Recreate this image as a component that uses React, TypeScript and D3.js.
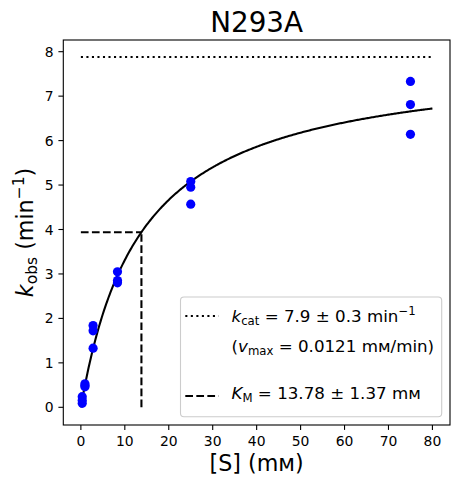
import React from "react";
import * as d3 from "d3";

const title = "N293A";
const substrate = [0.309, 0.309, 0.309, 0.926, 0.926, 0.926, 2.78, 2.78, 2.78, 8.33, 8.33, 8.33, 25, 25, 25, 75, 75, 75];
const kobs = [0.24, 0.16, 0.09, 0.53, 0.49, 0.46, 1.84, 1.72, 1.33, 3.05, 2.85, 2.8, 5.08, 4.95, 4.57, 7.33, 6.81, 6.14];
const kcat = 7.88;
const km = 13.78;
const xTicks = [0, 10, 20, 30, 40, 50, 60, 70, 80];
const yTicks = [0, 1, 2, 3, 4, 5, 6, 7, 8];
const curveMax = 80;

const W = 460;
const H = 484;
const L = 63.3, R = 450, T = 40, B = 425;
const FONT = "'DejaVu Sans', sans-serif";

export default function App() {
  const x = d3.scaleLinear().domain([-4, 84]).range([L, R]);
  const y = d3.scaleLinear().domain([-0.398, 8.263]).range([B, T]);
  const curvePts = d3.range(0, curveMax + 0.001, 0.25).map((s) => [s, (kcat * s) / (km + s)] as [number, number]);
  const line = d3.line<[number, number]>().x((d) => x(d[0])).y((d) => y(d[1]));
  const half = kcat / 2;
  const lw = 2.08;
  const dotted = "2.08 3.44";
  const dashed = "7.7 3.33";
  const lf = 16.7;
  const sf = lf * 0.7;
  const hx1 = 185.3, hx2 = 218.6, tx = 231.5;
  return (
    <svg width={W} height={H} style={{ position: "absolute", left: 0, top: 0, background: "#fff" }} fontFamily={FONT}>
      <rect x={0} y={0} width={W} height={H} fill="#fff" />
      {/* kcat dotted */}
      <line x1={x(0)} x2={x(curveMax)} y1={y(kcat)} y2={y(kcat)} stroke="#000" strokeWidth={lw} strokeDasharray={dotted} />
      {/* Km dashed */}
      <line x1={x(0)} x2={x(km)} y1={y(half)} y2={y(half)} stroke="#000" strokeWidth={lw} strokeDasharray={dashed} />
      <line x1={x(km)} x2={x(km)} y1={y(0)} y2={y(half)} stroke="#000" strokeWidth={lw} strokeDasharray={dashed} />
      {/* curve */}
      <path d={line(curvePts) || ""} fill="none" stroke="#000" strokeWidth={lw} />
      {/* points */}
      {substrate.map((s, i) => (
        <circle key={i} cx={x(s)} cy={y(kobs[i])} r={4.6} fill="#0000ff" />
      ))}
      {/* spines */}
      <rect x={L} y={T} width={R - L} height={B - T} fill="none" stroke="#000" strokeWidth={1.1} />
      {/* x ticks */}
      {xTicks.map((t) => (
        <g key={"x" + t}>
          <line x1={x(t)} x2={x(t)} y1={B} y2={B + 4.9} stroke="#000" strokeWidth={1.1} />
          <text x={x(t)} y={445.5} fontSize={13.9} textAnchor="middle" fill="#000">{t}</text>
        </g>
      ))}
      {yTicks.map((t) => (
        <g key={"y" + t}>
          <line x1={L} x2={L - 4.9} y1={y(t)} y2={y(t)} stroke="#000" strokeWidth={1.1} />
          <text x={L - 9.6} y={y(t)} dy="0.36em" fontSize={13.9} textAnchor="end" fill="#000">{t}</text>
        </g>
      ))}
      {/* title */}
      <text x={(L + R) / 2} y={32} fontSize={27.8} textAnchor="middle" fill="#000">{title}</text>
      {/* x label */}
      <text x={(L + R) / 2} y={471} fontSize={22.2} textAnchor="middle" fill="#000" style={{ whiteSpace: "pre" }}>[S] (mᴍ)</text>
      {/* y label */}
      <text transform={`translate(33,${(T + B) / 2}) rotate(-90)`} fontSize={22.2} textAnchor="middle" fill="#000" style={{ whiteSpace: "pre" }}>
        <tspan fontStyle="italic">k</tspan>
        <tspan fontSize={15.5} dy={4}>obs</tspan>
        <tspan dy={-4}> (min</tspan>
        <tspan fontSize={15.5} dy={-9}>−1</tspan>
        <tspan dy={9}>)</tspan>
      </text>
      {/* legend */}
      <rect x={180.5} y={297} width={261.2} height={119.7} rx={3.5} ry={3.5} fill="#fff" fillOpacity={0.8} stroke="#cccccc" strokeWidth={1.1} />
      <line x1={hx1} x2={hx2} y1={316} y2={316} stroke="#000" strokeWidth={lw} strokeDasharray={dotted} />
      <text x={tx} y={321.7} fontSize={lf} fill="#000" style={{ whiteSpace: "pre" }}>
        <tspan fontStyle="italic">k</tspan>
        <tspan fontSize={sf} dy={3}>cat</tspan>
        <tspan dy={-3}> = 7.9 ± 0.3 min</tspan>
        <tspan fontSize={sf} dy={-7}>−1</tspan>
      </text>
      <text x={tx} y={351.7} fontSize={lf} fill="#000" style={{ whiteSpace: "pre" }}>
        <tspan>(</tspan>
        <tspan fontStyle="italic">v</tspan>
        <tspan fontSize={sf} dy={3}>max</tspan>
        <tspan dy={-3}> = 0.0121 mᴍ/min)</tspan>
      </text>
      <line x1={hx1} x2={hx2} y1={396} y2={396} stroke="#000" strokeWidth={lw} strokeDasharray={dashed} />
      <text x={tx} y={398.8} fontSize={lf} fill="#000" style={{ whiteSpace: "pre" }}>
        <tspan fontStyle="italic">K</tspan>
        <tspan fontSize={sf} dy={3}>M</tspan>
        <tspan dy={-3}> = 13.78 ± 1.37 mᴍ</tspan>
      </text>
    </svg>
  );
}
